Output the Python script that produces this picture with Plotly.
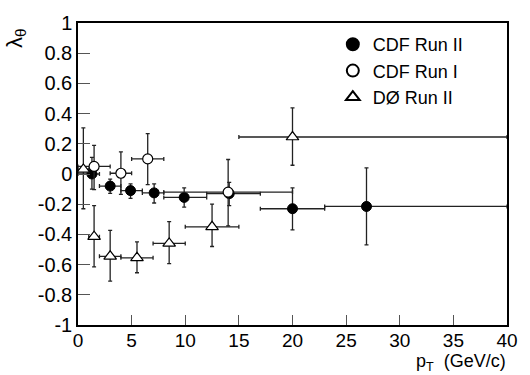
import plotly.graph_objects as go

# ---- data ----
# CDF Run II
run2_x = [1.3, 3.0, 4.9, 7.1, 9.9, 14.1, 20.0, 26.9]
run2_xlo = [0, 2, 4, 6, 8, 12, 17, 23]
run2_xhi = [2, 4, 6, 8, 12, 17, 23, 40]
run2_y = [0.00, -0.08, -0.11, -0.125, -0.155, -0.13, -0.23, -0.215]
run2_yhi = [0.11, -0.034, -0.066, -0.066, -0.092, -0.056, -0.092, 0.04]
run2_ylo = [-0.10, -0.128, -0.162, -0.192, -0.22, -0.21, -0.37, -0.47]

# CDF Run I
run1_x = [1.5, 4.0, 6.5, 14.0]
run1_xlo = [0, 3, 5, 8]
run1_xhi = [3, 5, 8, 20]
run1_y = [0.05, 0.005, 0.10, -0.12]
run1_yhi = [0.19, 0.147, 0.267, 0.096]
run1_ylo = [-0.103, -0.135, -0.07, -0.344]

# D0 Run II
d0_x = [0.5, 1.5, 3.0, 5.5, 8.5, 12.5, 20.0]
d0_xlo = [0, 1, 2, 4, 7, 10, 15]
d0_xhi = [1, 2, 4, 7, 10, 15, 40]
d0_y = [0.03, -0.415, -0.545, -0.555, -0.46, -0.35, 0.245]
d0_yhi = [0.305, -0.21, -0.374, -0.45, -0.316, -0.2, 0.438]
d0_ylo = [-0.23, -0.615, -0.71, -0.654, -0.594, -0.48, 0.058]

x_ticks = [0, 5, 10, 15, 20, 25, 30, 35, 40]
x_ticklabels = ["0", "5", "10", "15", "20", "25", "30", "35", "40"]
y_ticks = [-1, -0.8, -0.6, -0.4, -0.2, 0, 0.2, 0.4, 0.6, 0.8, 1]
y_ticklabels = ["-1", "-0.8", "-0.6", "-0.4", "-0.2", "0", "0.2", "0.4", "0.6", "0.8", "1"]

FONT = "Liberation Sans, Arial, Helvetica, sans-serif"
ERRC = "#222222"


def series(name, x, xlo, xhi, y, ylo, yhi, marker):
    return go.Scatter(
        x=x, y=y, mode="markers", name=name,
        marker=marker,
        error_x=dict(type="data", symmetric=False,
                     array=[h - v for h, v in zip(xhi, x)],
                     arrayminus=[v - l for l, v in zip(xlo, x)],
                     color=ERRC, thickness=1.3, width=2),
        error_y=dict(type="data", symmetric=False,
                     array=[h - v for h, v in zip(yhi, y)],
                     arrayminus=[v - l for l, v in zip(ylo, y)],
                     color=ERRC, thickness=1.3, width=2),
    )


fig = go.Figure()
fig.add_trace(series("CDF Run II", run2_x, run2_xlo, run2_xhi, run2_y, run2_ylo, run2_yhi,
                     dict(symbol="circle", size=10, color="black",
                          line=dict(color="black", width=1))))
fig.add_trace(series("CDF Run I", run1_x, run1_xlo, run1_xhi, run1_y, run1_ylo, run1_yhi,
                     dict(symbol="circle", size=10, color="white",
                          line=dict(color="black", width=1.2))))
fig.add_trace(series("D\u00d8 Run II", d0_x, d0_xlo, d0_xhi, d0_y, d0_ylo, d0_yhi,
                     dict(symbol="triangle-up", size=11, color="white",
                          line=dict(color="black", width=1.2))))
# empty helper trace that carries the top-left axis title
fig.add_trace(go.Scatter(x=[None], y=[None], xaxis="x2", yaxis="y2",
                         showlegend=False, hoverinfo="skip"))

fig.update_layout(
    width=530, height=375,
    margin=dict(l=78, r=13, t=14, b=50),
    paper_bgcolor="white", plot_bgcolor="rgba(0,0,0,0)",
    font=dict(family=FONT, size=18, color="black"),
    showlegend=True,
    legend=dict(x=0.594, y=0.99, xanchor="left", yanchor="top",
                bgcolor="rgba(0,0,0,0)", font=dict(size=18),
                tracegroupgap=0, itemsizing="constant"),
    xaxis=dict(range=[0, 40], tickvals=x_ticks, ticktext=x_ticklabels,
               showgrid=False, zeroline=False,
               showline=True, linecolor="black", linewidth=1.5, mirror=True,
               ticks="inside", ticklen=10, tickwidth=1.3, tickcolor="#555555",
               ticklabelstandoff=-3, tickfont=dict(size=19)),
    yaxis=dict(range=[-1, 1], tickvals=y_ticks, ticktext=y_ticklabels,
               showgrid=False, zeroline=False,
               showline=True, linecolor="black", linewidth=1.5, mirror=True,
               ticks="inside", ticklen=12, tickwidth=1.3, tickcolor="#555555",
               tickfont=dict(size=20)),
    xaxis2=dict(domain=[0, 1], anchor="y2", visible=False, range=[0, 1]),
    yaxis2=dict(domain=[0.9, 1.0], anchor="x2", range=[0, 1],
                showline=False, showgrid=False, zeroline=False, ticks="",
                showticklabels=False,
                title=dict(text="\u03bb<sub>\u03b8</sub>", standoff=48,
                           font=dict(size=22))),
    annotations=[
        dict(text="p<sub>T</sub>  (GeV/c)", xref="paper", yref="paper",
             x=1.0, y=-0.084, xanchor="right", yanchor="top", showarrow=False,
             borderpad=0, font=dict(size=18)),
    ],
)

fig.write_html("out.html")
